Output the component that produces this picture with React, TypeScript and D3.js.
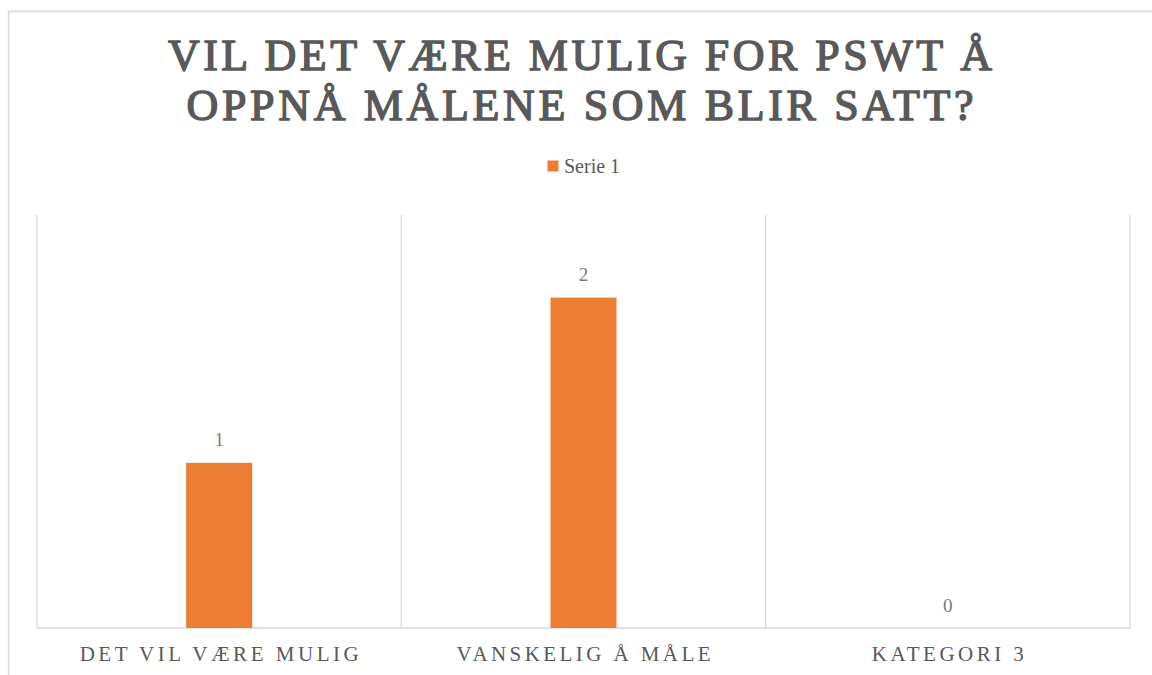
import React from "react";
import * as d3 from "d3";

const titleLines = ["VIL DET VÆRE MULIG FOR PSWT Å", "OPPNÅ MÅLENE SOM BLIR SATT?"];
const categories = ["DET VIL VÆRE MULIG", "VANSKELIG Å MÅLE", "KATEGORI 3"];
const values = [1, 2, 0];
const seriesName = "Serie 1";
const yMax = 2.5;

const W = 1152;
const H = 675;
const plot = { left: 37, right: 1130, top: 215, bottom: 628 };
const orange = "#ED7D31";
const gray = "#595959";
const grid = "#D9D9D9";
const serif = "'Liberation Serif', 'Times New Roman', serif";

const titleWidths = [824, 787];
const labelWidths = [279, 254, 152];

export default function App() {
  const x = d3
    .scaleBand<string>()
    .domain(categories)
    .range([plot.left, plot.right])
    .paddingInner(0)
    .paddingOuter(0);
  const y = d3.scaleLinear().domain([0, yMax]).range([plot.bottom, plot.top]);
  const bw = 66;
  const boundaries = [...categories.map((c) => x(c) as number), plot.right];

  return (
    <svg
      width={W}
      height={H}
      style={{ position: "absolute", left: 0, top: 0, background: "#fff" }}
    >
      <rect x={8.5} y={11.5} width={W + 10} height={H + 10} fill="#fff" stroke={grid} strokeWidth={1.5} />
      {titleLines.map((t, i) => (
        <text
          key={t}
          x={580}
          y={70 + i * 50}
          textAnchor="middle"
          fontFamily={serif}
          fontWeight="normal"
          fontSize={44}
          fill={gray}
          stroke={gray}
          strokeWidth={1.4}
          strokeLinejoin="round"
          textLength={titleWidths[i]}
          lengthAdjust="spacing"
        >
          {t}
        </text>
      ))}
      <rect x={547.5} y={160.5} width={11} height={11} fill={orange} />
      <text x={564} y={172.5} fontFamily={serif} fontSize={20} fill={gray}>
        {seriesName}
      </text>
      {boundaries.map((b, i) => (
        <line key={i} x1={b} x2={b} y1={plot.top} y2={plot.bottom} stroke={grid} strokeWidth={1.3} />
      ))}
      <line x1={plot.left} x2={plot.right} y1={plot.bottom} y2={plot.bottom} stroke={grid} strokeWidth={1.5} />
      {categories.map((c, i) => {
        const cx = (x(c) as number) + x.bandwidth() / 2;
        const v = values[i];
        return (
          <g key={c}>
            {v > 0 && (
              <rect x={cx - bw / 2} y={y(v)} width={bw} height={y(0) - y(v)} fill={orange} />
            )}
            <text
              x={cx}
              y={y(v) - 16.5}
              textAnchor="middle"
              fontFamily={serif}
              fontSize={19}
              fill="#7a7a7a"
            >
              {v}
            </text>
            <text
              x={cx}
              y={661}
              textAnchor="middle"
              fontFamily={serif}
              fontSize={21}
              fill={gray}
              textLength={labelWidths[i]}
              lengthAdjust="spacing"
            >
              {c}
            </text>
          </g>
        );
      })}
    </svg>
  );
}
